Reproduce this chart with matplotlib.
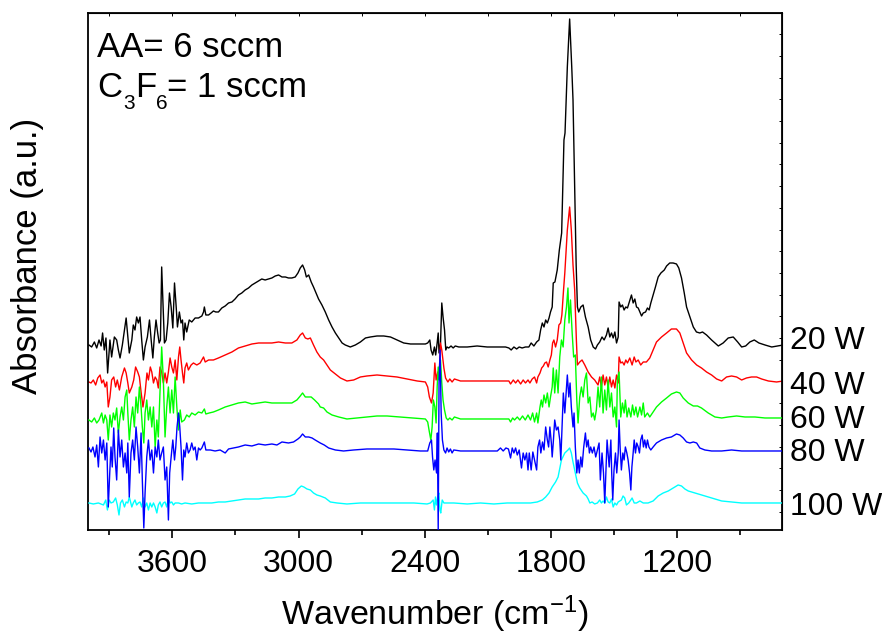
import numpy as np
import matplotlib
matplotlib.use("Agg")
import matplotlib.pyplot as plt
from matplotlib.ticker import MultipleLocator

plt.rcParams['font.family'] = ['Liberation Sans', 'DejaVu Sans']
plt.rcParams['mathtext.fontset'] = 'custom'
plt.rcParams['mathtext.rm'] = 'Liberation Sans'
plt.rcParams['mathtext.it'] = 'Liberation Sans:italic'

# (wavenumber cm-1, absorbance a.u., already offset for stacking)
spec_20W = [(3997,185),(3984,183),(3971,188),(3960,182),(3949,190),(3939,184),(3932,197),(3924,180),(3916,192),(3908,157),
    (3897,190),(3889,173),(3876,193),(3865,190),(3857,180),(3849,172),(3838,185),(3828,200),(3820,212),(3812,193),
    (3805,177),(3793,190),(3786,205),(3778,200),(3770,213),(3762,207),(3754,213),(3746,190),(3738,170),(3730,183),
    (3719,193),(3709,210),(3701,190),(3693,172),(3686,193),(3678,210),(3670,197),(3663,187),(3657,190),(3651,263),
    (3644,223),(3638,187),(3630,190),(3622,207),(3614,237),(3606,223),(3598,202),(3590,247),(3582,223),(3576,203),
    (3567,218),(3559,207),(3552,210),(3546,190),(3540,207),(3532,198),(3520,210),(3508,208),(3492,212),(3476,212),
    (3460,214),(3452,218),(3448,223),(3441,215),(3428,215),(3416,217),(3405,219),(3394,218),(3381,218),(3365,222),
    (3349,224),(3333,227),(3317,228),(3302,231),(3286,235),(3270,237),(3254,240),(3238,242),(3222,245),(3206,247),
    (3190,249),(3175,251),(3159,250),(3143,251),(3127,252),(3111,254),(3095,255),(3079,253),(3063,253),(3048,252),
    (3032,252),(3016,253),(3003,257),(2992,262),(2981,265),(2971,260),(2963,253),(2952,255),(2940,248),(2929,243),
    (2917,237),(2905,231),(2889,225),(2873,218),(2857,210),(2841,203),(2825,197),(2809,192),(2793,187),(2778,185),
    (2754,183),(2730,185),(2706,188),(2682,192),(2659,193),(2627,194),(2595,194),(2563,193),(2532,190),(2500,187),
    (2468,186),(2421,186),(2397,186),(2386,187),(2376,190),(2370,180),(2362,175),(2354,183),(2348,175),(2341,187),
    (2336,197),(2332,177),(2325,187),(2319,227),(2313,213),(2306,200),(2300,180),(2294,183),(2286,182),(2275,184),
    (2265,182),(2255,184),(2238,183),(2198,183),(2151,184),(2103,183),(2055,183),(2016,183),(2000,182),(1989,180),
    (1976,183),(1963,181),(1951,183),(1937,182),(1921,183),(1905,183),(1894,187),(1881,184),(1868,188),(1857,190),
    (1849,200),(1841,207),(1833,203),(1825,210),(1817,207),(1809,212),(1802,218),(1794,223),(1789,247),(1781,248),
    (1770,260),(1760,280),(1749,297),(1738,390),(1733,397),(1722,463),(1711,511),(1701,463),(1695,430),(1686,330),
    (1680,265),(1674,223),(1668,218),(1658,223),(1647,225),(1636,213),(1623,203),(1611,190),(1599,183),(1588,181),
    (1579,185),(1568,188),(1557,193),(1547,190),(1536,195),(1528,202),(1520,193),(1512,197),(1504,192),(1496,198),
    (1488,187),(1480,193),(1476,228),(1468,223),(1460,225),(1452,220),(1444,223),(1436,222),(1427,228),(1417,235),
    (1409,227),(1401,231),(1393,223),(1385,222),(1377,218),(1369,214),(1361,217),(1350,218),(1341,222),(1333,220),
    (1325,227),(1314,235),(1303,243),(1290,253),(1277,257),(1261,260),(1250,264),(1235,267),(1219,267),(1203,266),
    (1192,262),(1179,252),(1166,237),(1155,223),(1139,213),(1123,203),(1108,198),(1092,197),(1079,198),(1060,195),
    (1036,190),(1004,184),(981,187),(957,192),(933,193),(912,188),(893,183),(874,184),(854,188),(833,190),
    (811,187),(782,185),(750,183),(722,184),(695,185)]

spec_40W = [(3997,148),(3987,147),(3976,150),(3965,145),(3955,152),(3944,155),(3936,147),(3928,150),(3920,143),(3912,148),
    (3905,123),(3897,133),(3889,150),(3879,153),(3870,143),(3862,150),(3852,140),(3841,153),(3828,162),(3820,157),
    (3812,147),(3805,137),(3793,143),(3784,150),(3775,163),(3765,158),(3757,153),(3749,138),(3740,123),(3730,137),
    (3721,157),(3714,150),(3705,163),(3698,158),(3690,147),(3682,153),(3674,150),(3667,142),(3659,163),(3651,158),
    (3643,147),(3635,157),(3627,147),(3619,158),(3611,172),(3603,163),(3595,157),(3587,170),(3579,150),(3571,173),
    (3565,183),(3559,170),(3552,157),(3546,147),(3540,162),(3532,167),(3524,160),(3511,165),(3500,167),(3484,165),
    (3468,167),(3452,173),(3444,168),(3428,170),(3405,170),(3381,172),(3349,175),(3317,178),(3286,182),(3254,184),
    (3222,186),(3190,187),(3159,187),(3127,187),(3095,188),(3063,187),(3032,187),(3008,190),(2992,195),(2981,197),
    (2968,192),(2956,191),(2944,192),(2929,185),(2913,178),(2897,173),(2881,170),(2865,165),(2849,160),(2825,156),
    (2801,152),(2770,149),(2738,150),(2706,153),(2675,154),(2627,155),(2579,154),(2532,153),(2484,151),(2436,149),
    (2397,148),(2386,143),(2378,133),(2368,127),(2360,137),(2352,167),(2346,150),(2338,158),(2332,153),(2325,187),
    (2319,180),(2309,162),(2301,152),(2290,148),(2281,151),(2270,148),(2259,151),(2230,149),(2167,149),(2103,149),
    (2040,149),(2000,149),(1992,146),(1979,150),(1968,147),(1957,150),(1944,146),(1932,150),(1921,147),(1909,150),
    (1900,147),(1889,151),(1878,153),(1868,147),(1862,153),(1852,157),(1844,162),(1836,164),(1829,167),(1821,168),
    (1813,163),(1805,170),(1798,175),(1792,187),(1786,190),(1778,183),(1770,190),(1762,205),(1754,207),(1748,215),
    (1740,240),(1734,257),(1722,300),(1711,323),(1703,300),(1695,265),(1687,240),(1679,190),(1674,165),(1663,168),
    (1652,170),(1639,165),(1623,158),(1607,153),(1592,150),(1576,145),(1568,153),(1560,143),(1552,155),(1544,145),
    (1536,153),(1528,143),(1520,153),(1512,143),(1504,150),(1496,142),(1488,155),(1480,147),(1476,173),(1468,167),
    (1460,168),(1452,165),(1444,170),(1436,167),(1425,172),(1414,165),(1404,173),(1396,168),(1385,170),(1373,165),
    (1361,168),(1346,168),(1330,172),(1314,180),(1298,188),(1274,193),(1250,197),(1227,201),(1203,201),(1187,197),
    (1171,187),(1155,177),(1131,170),(1107,165),(1084,162),(1060,158),(1036,155),(1012,151),(988,149),(965,153),
    (941,154),(917,153),(893,150),(870,152),(846,153),(822,153),(798,151),(766,149),(727,148),(695,149)]

spec_60W = [(3997,110),(3984,108),(3971,112),(3960,107),(3949,110),(3936,117),(3928,107),(3920,115),(3912,110),(3905,90),
    (3897,115),(3889,103),(3881,117),(3873,110),(3865,122),(3857,97),(3849,113),(3841,123),(3833,110),(3825,133),
    (3817,140),(3812,117),(3805,90),(3797,110),(3789,123),(3781,103),(3773,133),(3765,117),(3757,143),(3749,123),
    (3743,103),(3736,87),(3730,117),(3722,130),(3714,110),(3706,123),(3698,103),(3690,123),(3682,83),(3674,110),
    (3667,93),(3659,137),(3651,183),(3643,150),(3635,93),(3627,123),(3619,143),(3611,117),(3603,140),(3595,117),
    (3587,153),(3579,123),(3571,100),(3563,120),(3556,108),(3543,110),(3532,115),(3520,113),(3508,117),(3492,115),
    (3476,118),(3460,117),(3448,121),(3441,116),(3425,117),(3405,118),(3381,120),(3349,123),(3317,125),(3286,127),
    (3254,128),(3222,126),(3190,127),(3159,128),(3127,127),(3095,127),(3063,127),(3032,127),(3008,130),(2992,134),
    (2981,137),(2968,133),(2956,133),(2940,133),(2924,130),(2905,126),(2897,123),(2881,122),(2865,118),(2841,115),
    (2809,113),(2770,111),(2722,112),(2675,113),(2627,114),(2579,114),(2516,113),(2452,112),(2397,111),(2386,108),
    (2378,98),(2371,90),(2365,103),(2359,130),(2352,123),(2346,107),(2341,143),(2336,163),(2332,150),(2325,170),
    (2319,147),(2313,130),(2306,120),(2298,112),(2290,110),(2281,112),(2270,110),(2259,113),(2230,111),(2167,111),
    (2103,111),(2040,111),(2000,111),(1992,108),(1982,112),(1973,110),(1960,113),(1948,110),(1935,114),(1922,110),
    (1909,115),(1897,110),(1887,117),(1878,108),(1868,117),(1862,107),(1852,123),(1846,130),(1840,123),(1833,135),
    (1825,127),(1817,137),(1809,123),(1802,133),(1794,143),(1789,162),(1782,137),(1774,160),(1766,137),(1758,173),
    (1750,190),(1742,183),(1734,210),(1726,223),(1719,242),(1714,207),(1707,230),(1699,197),(1692,173),(1684,175),
    (1677,130),(1671,107),(1663,133),(1655,143),(1647,133),(1639,150),(1631,157),(1623,127),(1615,133),(1607,113),
    (1599,117),(1592,110),(1584,120),(1576,143),(1568,123),(1560,153),(1552,117),(1544,140),(1536,120),(1528,150),
    (1520,123),(1512,137),(1504,113),(1496,123),(1488,103),(1484,150),(1476,158),(1468,113),(1460,127),(1452,117),
    (1446,130),(1438,113),(1430,122),(1420,113),(1412,125),(1404,115),(1396,123),(1388,113),(1377,123),(1369,115),
    (1361,127),(1354,113),(1341,117),(1330,113),(1314,118),(1298,123),(1274,128),(1250,132),(1227,136),(1203,138),
    (1187,137),(1171,132),(1147,127),(1123,124),(1103,124),(1084,122),(1052,117),(1020,113),(988,112),(957,113),
    (917,114),(877,113),(830,113),(782,112),(735,112),(695,112)]

spec_80W = [(3997,82),(3987,78),(3978,83),(3968,73),(3960,85),(3952,63),(3944,93),(3936,77),(3928,90),(3920,70),
    (3912,87),(3905,23),(3898,57),(3892,83),(3886,63),(3879,102),(3873,73),(3865,50),(3857,100),(3849,73),
    (3841,90),(3833,63),(3825,77),(3817,57),(3812,87),(3805,33),(3797,77),(3789,90),(3781,70),(3773,103),
    (3765,83),(3757,57),(3749,97),(3743,50),(3736,2),(3730,37),(3722,73),(3714,90),(3706,70),(3698,80),
    (3690,57),(3682,83),(3674,73),(3667,90),(3659,70),(3651,77),(3643,83),(3635,50),(3627,63),(3619,10),
    (3613,57),(3606,73),(3598,90),(3590,70),(3584,83),(3578,103),(3571,117),(3565,103),(3559,83),(3552,50),
    (3546,80),(3540,73),(3532,87),(3524,77),(3516,80),(3508,87),(3500,80),(3492,83),(3484,70),(3476,82),
    (3468,80),(3460,82),(3448,88),(3441,80),(3420,80),(3397,79),(3373,80),(3349,77),(3333,81),(3310,82),
    (3286,83),(3254,85),(3222,84),(3190,86),(3159,85),(3127,86),(3103,85),(3079,88),(3048,87),(3024,88),
    (3003,91),(2992,93),(2981,96),(2968,93),(2952,93),(2936,92),(2921,90),(2905,88),(2897,87),(2878,85),
    (2857,82),(2825,80),(2786,79),(2738,80),(2675,81),(2611,81),(2547,81),(2484,80),(2421,79),(2386,79),
    (2376,87),(2368,90),(2363,73),(2357,60),(2351,70),(2344,57),(2340,97),(2336,0),(2332,147),(2327,180),
    (2322,117),(2316,90),(2309,80),(2301,77),(2294,82),(2286,78),(2278,81),(2270,77),(2262,80),(2230,79),
    (2167,79),(2103,79),(2055,79),(2040,82),(2027,79),(2014,82),(2002,81),(1992,72),(1984,82),(1976,77),
    (1968,82),(1960,75),(1951,80),(1940,62),(1932,77),(1924,70),(1916,77),(1909,60),(1903,77),(1894,60),
    (1886,78),(1878,70),(1868,60),(1862,83),(1854,90),(1848,77),(1840,88),(1833,80),(1825,103),(1817,90),
    (1811,83),(1805,103),(1798,87),(1794,73),(1789,87),(1782,110),(1774,100),(1766,103),(1758,90),(1753,70),
    (1747,103),(1741,137),(1734,117),(1726,143),(1722,155),(1715,133),(1709,147),(1703,123),(1695,103),(1690,117),
    (1684,83),(1677,57),(1671,70),(1665,57),(1658,73),(1652,63),(1644,83),(1636,97),(1630,83),(1623,90),
    (1617,77),(1611,83),(1603,77),(1595,83),(1587,73),(1579,80),(1571,87),(1565,50),(1557,77),(1550,57),
    (1544,27),(1539,57),(1533,90),(1528,77),(1523,63),(1515,90),(1511,57),(1506,30),(1500,60),(1493,77),
    (1487,57),(1480,77),(1476,110),(1471,83),(1465,60),(1458,77),(1452,70),(1446,83),(1439,77),(1433,70),
    (1426,57),(1420,40),(1415,63),(1409,77),(1404,90),(1398,77),(1392,87),(1385,83),(1379,77),(1373,90),
    (1366,95),(1360,83),(1354,90),(1347,82),(1341,90),(1334,83),(1325,80),(1314,83),(1298,87),(1274,90),
    (1250,92),(1227,93),(1203,96),(1187,95),(1171,92),(1155,88),(1139,87),(1123,88),(1107,87),(1092,82),
    (1068,80),(1036,79),(988,79),(941,80),(893,79),(830,79),(766,79),(695,79)]

spec_100W = [(3997,27),(3976,26),(3952,27),(3928,25),(3917,30),(3909,20),(3901,30),(3892,27),(3881,28),(3870,32),
    (3862,25),(3854,15),(3847,27),(3838,30),(3828,23),(3820,28),(3812,27),(3805,33),(3793,23),(3786,27),
    (3778,30),(3770,25),(3762,27),(3754,28),(3746,23),(3738,32),(3730,23),(3722,27),(3714,20),(3706,27),
    (3698,23),(3690,27),(3682,23),(3674,17),(3667,25),(3659,28),(3651,23),(3643,27),(3635,28),(3627,23),
    (3619,32),(3611,27),(3603,28),(3595,25),(3587,27),(3571,27),(3556,26),(3540,27),(3508,26),(3476,27),
    (3444,27),(3413,27),(3381,28),(3349,28),(3317,29),(3286,30),(3254,31),(3222,31),(3190,31),(3159,32),
    (3127,32),(3095,33),(3063,33),(3040,34),(3019,36),(3003,41),(2987,44),(2975,43),(2960,41),(2944,40),
    (2929,37),(2913,35),(2897,34),(2873,32),(2849,28),(2817,27),(2770,26),(2706,27),(2643,27),(2579,27),
    (2516,27),(2452,27),(2389,26),(2373,27),(2360,30),(2354,20),(2349,33),(2344,25),(2338,33),(2333,37),
    (2328,20),(2324,17),(2317,30),(2309,27),(2294,27),(2262,27),(2198,26),(2135,27),(2071,26),(2008,27),
    (1944,27),(1897,27),(1865,28),(1841,30),(1825,33),(1809,37),(1794,43),(1778,48),(1766,53),(1750,70),
    (1734,77),(1719,80),(1711,82),(1703,77),(1695,68),(1684,57),(1674,47),(1663,42),(1647,37),(1631,34),
    (1623,31),(1615,27),(1604,28),(1592,26),(1579,27),(1568,30),(1560,27),(1552,29),(1544,27),(1536,33),
    (1528,28),(1520,27),(1512,31),(1504,23),(1496,27),(1488,25),(1480,28),(1465,30),(1457,34),(1449,32),
    (1441,25),(1430,27),(1420,30),(1414,32),(1404,27),(1393,27),(1377,29),(1361,27),(1338,27),(1314,29),
    (1290,34),(1266,37),(1242,39),(1219,42),(1195,45),(1179,44),(1163,41),(1147,39),(1115,37),(1084,35),
    (1052,33),(1020,31),(988,29),(941,28),(893,27),(830,27),(766,27),(695,27)]

series = [("20 W", spec_20W, "#000000", 189),
          ("40 W", spec_40W, "#ff0000", 144),
          ("60 W", spec_60W, "#00ff00", 110),
          ("80 W", spec_80W, "#0000ff", 77),
          ("100 W", spec_100W, "#00ffff", 23)]
zorders = {"20 W": 1, "40 W": 2, "60 W": 3, "80 W": 5, "100 W": 4}

fig = plt.figure(figsize=(8.82, 6.37), dpi=100)
ax = fig.add_axes([0.1001, 0.168, 0.7868, 0.8116])

for name, spec, color, label_y in series:
    wn, ab = zip(*spec)
    ax.plot(wn, ab, color=color, lw=1.0, zorder=zorders[name])
    ax.text(1.011, label_y, name, transform=ax.get_yaxis_transform(),
            fontsize=23, va='center', ha='left')

ax.set_xlim(4000, 700)
ax.set_ylim(0, 517)
ax.xaxis.set_major_locator(MultipleLocator(600))
ax.xaxis.set_minor_locator(MultipleLocator(300))
ax.set_yticks([])
ax.tick_params(axis='x', which='major', direction='out', length=6, width=1.2,
               labelsize=23, pad=8)
ax.tick_params(axis='x', which='minor', direction='out', length=3.5, width=1.2)
for s in ax.spines.values():
    s.set_linewidth(1.3)

# small inward ticks on the top and right frame
top = ax.secondary_xaxis('top')
top.xaxis.set_major_locator(MultipleLocator(300))
top.tick_params(direction='in', length=2, width=0.7, labeltop=False)
right = ax.secondary_yaxis('right')
right.set_yticks(np.arange(18.3, 517, 21.7))
right.tick_params(direction='in', length=2, width=0.7, labelright=False)

# gas flow annotation, subscripts placed by hand to sit low like the original
fs, fs_sub = 25, 15
ax.text(0.013, 0.915, "AA= 6 sccm", transform=ax.transAxes, fontsize=fs, va='baseline')
y_main, y_sub = 0.8381, 0.8143
ax.text(0.013, y_main, "C", transform=ax.transAxes, fontsize=fs, va='baseline')
ax.text(0.051, y_sub, "3", transform=ax.transAxes, fontsize=fs_sub, va='baseline')
ax.text(0.068, y_main, "F", transform=ax.transAxes, fontsize=fs, va='baseline')
ax.text(0.098, y_sub, "6", transform=ax.transAxes, fontsize=fs_sub, va='baseline')
ax.text(0.114, y_main, "= 1 sccm", transform=ax.transAxes, fontsize=fs, va='baseline')

fig.text(435 / 882, 1 - 625 / 637, r"Wavenumber (cm$^\mathregular{-1}$)",
         fontsize=24.5, ha='center', va='baseline')
fig.text(28 / 882, 1 - 256 / 637, "Absorbance (a.u.)", fontsize=25,
         rotation=90, ha='center', va='center')

fig.savefig("out.png", dpi=100)
